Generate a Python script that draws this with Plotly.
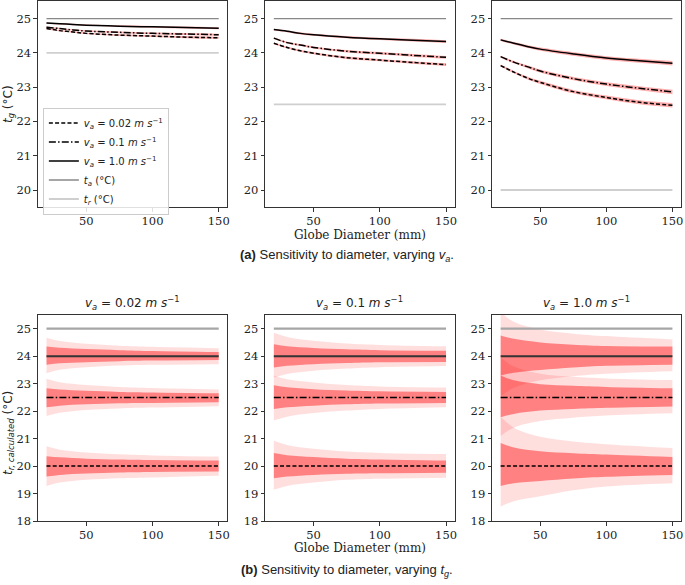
import plotly.graph_objects as go

# ---------------- data ----------------
D_top = [20, 30, 40, 50, 75, 100, 125, 150]
ta_value = 25.0
tr_top = [24.0, 22.5, 20.0]

# panel (a1) tr = 24
tg_a1_va002 = [24.71, 24.65, 24.61, 24.57, 24.52, 24.49, 24.46, 24.44]
tg_a1_va01 = [24.75, 24.71, 24.67, 24.64, 24.60, 24.57, 24.55, 24.53]
tg_a1_va10 = [24.87, 24.85, 24.83, 24.81, 24.78, 24.76, 24.74, 24.72]
# panel (a2) tr = 22.5
tg_a2_va002 = [24.28, 24.16, 24.06, 23.99, 23.86, 23.79, 23.72, 23.66]
tg_a2_va01 = [24.43, 24.30, 24.23, 24.16, 24.05, 23.99, 23.93, 23.87]
tg_a2_va10 = [24.68, 24.63, 24.57, 24.53, 24.46, 24.41, 24.37, 24.33]
# panel (a3) tr = 20
tg_a3_va002 = [23.63, 23.44, 23.27, 23.14, 22.87, 22.70, 22.56, 22.47]
tg_a3_va01 = [23.89, 23.73, 23.60, 23.47, 23.25, 23.09, 22.97, 22.86]
tg_a3_va10 = [24.38, 24.28, 24.19, 24.11, 23.97, 23.85, 23.77, 23.70]
# half width of the uncertainty band around each t_g curve
tg_band_a1 = [0.02, 0.02, 0.02, 0.02, 0.025, 0.025, 0.03, 0.03]
tg_band_a2 = [0.025, 0.025, 0.03, 0.03, 0.035, 0.035, 0.04, 0.04]
tg_band_a3 = [0.03, 0.035, 0.04, 0.045, 0.05, 0.055, 0.06, 0.065]

# panel (b): calculated tr with uncertainty bands (offsets from tr)
D_bot = [20, 30, 50, 75, 100, 150]
tr_bot = [24.0, 22.5, 20.0]
# va = 0.02
b1_24_outer_up = [0.67, 0.55, 0.45, 0.38, 0.34, 0.29]
b1_24_inner_up = [0.35, 0.31, 0.26, 0.22, 0.19, 0.15]
b1_24_inner_dn = [0.31, 0.26, 0.22, 0.18, 0.16, 0.14]
b1_24_outer_dn = [0.62, 0.49, 0.40, 0.34, 0.31, 0.29]
b1_225_outer_up = [0.68, 0.55, 0.45, 0.38, 0.34, 0.29]
b1_225_inner_up = [0.33, 0.29, 0.24, 0.20, 0.18, 0.15]
b1_225_inner_dn = [0.36, 0.30, 0.25, 0.21, 0.20, 0.18]
b1_225_outer_dn = [0.68, 0.56, 0.46, 0.40, 0.37, 0.32]
b1_20_outer_up = [0.72, 0.60, 0.50, 0.43, 0.39, 0.35]
b1_20_inner_up = [0.36, 0.32, 0.27, 0.24, 0.22, 0.20]
b1_20_inner_dn = [0.38, 0.32, 0.27, 0.23, 0.21, 0.20]
b1_20_outer_dn = [0.72, 0.60, 0.50, 0.44, 0.41, 0.35]
# va = 0.1
b2_24_outer_up = [0.85, 0.70, 0.56, 0.46, 0.41, 0.36]
b2_24_inner_up = [0.43, 0.36, 0.30, 0.25, 0.22, 0.20]
b2_24_inner_dn = [0.41, 0.35, 0.29, 0.25, 0.22, 0.21]
b2_24_outer_dn = [0.78, 0.65, 0.53, 0.45, 0.40, 0.36]
b2_225_outer_up = [0.80, 0.66, 0.54, 0.45, 0.40, 0.36]
b2_225_inner_up = [0.44, 0.37, 0.30, 0.25, 0.22, 0.20]
b2_225_inner_dn = [0.42, 0.36, 0.30, 0.25, 0.22, 0.20]
b2_225_outer_dn = [0.84, 0.70, 0.57, 0.48, 0.42, 0.36]
b2_20_outer_up = [0.92, 0.77, 0.63, 0.53, 0.48, 0.44]
b2_20_inner_up = [0.48, 0.40, 0.33, 0.27, 0.24, 0.20]
b2_20_inner_dn = [0.44, 0.38, 0.32, 0.28, 0.26, 0.24]
b2_20_outer_dn = [0.86, 0.72, 0.60, 0.50, 0.46, 0.42]
# va = 1.0
b3_24_outer_up = [1.60, 1.25, 0.97, 0.82, 0.73, 0.61]
b3_24_inner_up = [0.75, 0.63, 0.50, 0.42, 0.37, 0.35]
b3_24_inner_dn = [0.70, 0.60, 0.50, 0.41, 0.35, 0.31]
b3_24_outer_dn = [1.45, 1.15, 0.88, 0.73, 0.64, 0.55]
b3_225_outer_up = [1.45, 1.12, 0.86, 0.75, 0.69, 0.63]
b3_225_inner_up = [0.80, 0.62, 0.48, 0.42, 0.38, 0.33]
b3_225_inner_dn = [0.72, 0.60, 0.48, 0.42, 0.38, 0.33]
b3_225_outer_dn = [1.40, 1.10, 0.86, 0.74, 0.66, 0.58]
b3_20_outer_up = [1.80, 1.40, 1.07, 0.90, 0.80, 0.66]
b3_20_inner_up = [0.84, 0.68, 0.54, 0.47, 0.42, 0.33]
b3_20_inner_dn = [0.72, 0.62, 0.54, 0.45, 0.39, 0.32]
b3_20_outer_dn = [1.47, 1.28, 1.10, 0.88, 0.74, 0.62]

x_ticks = [50, 100, 150]
va_labels = ["0.02", "0.1", "1.0"]

# ---------------- styling ----------------
W, H = 685, 585
DASH = {"0.02": "4px,2.2px", "0.1": "7px,2.2px,1.5px,2.2px", "1.0": "solid"}
PINK = "rgba(255,40,40,0.38)"
LIGHT = "rgba(255,0,0,0.13)"
DARK = "rgba(255,0,0,0.42)"
AX = "#333333"


def pxx(x):
    return x / W


def pxy(y):
    return 1 - y / H


cols = [(38, 228), (266, 456), (493.5, 683)]
rows = [(0.5, 209), (318.3, 527.3)]

fig = go.Figure()
layout = dict(
    width=W, height=H, margin=dict(l=0, r=0, t=0, b=0),
    plot_bgcolor="white", paper_bgcolor="white", showlegend=True,
)

for r, (yt, yb) in enumerate(rows):
    for c, (xl, xr) in enumerate(cols):
        k = r * 3 + c + 1
        common = dict(
            ticks="outside", ticklen=3.5, tickwidth=1, tickcolor=AX,
            showline=True, linecolor=AX, linewidth=1, mirror=True,
            showgrid=False, zeroline=False,
            tickfont=dict(family="DejaVu Serif", size=11.5, color="#222"),
        )
        layout[f"xaxis{k}"] = dict(
            domain=[pxx(xl), pxx(xr)], anchor=f"y{k}", range=[13.5, 156.5],
            tickvals=x_ticks, **common,
        )
        yr = [19.5, 25.5] if r == 0 else [18, 25.5]
        layout[f"yaxis{k}"] = dict(
            domain=[pxy(yb), pxy(yt)], anchor=f"x{k}", range=yr, dtick=1,
            **common,
        )


def axn(k):
    return ("x" if k == 1 else f"x{k}"), ("y" if k == 1 else f"y{k}")


def band(k, x, lo, hi, color):
    xa, ya = axn(k)
    fig.add_trace(go.Scatter(x=x, y=hi, xaxis=xa, yaxis=ya, mode="lines",
                             line=dict(width=0, shape="spline"), showlegend=False,
                             hoverinfo="skip"))
    fig.add_trace(go.Scatter(x=x, y=lo, xaxis=xa, yaxis=ya, mode="lines",
                             line=dict(width=0, shape="spline"), fill="tonexty",
                             fillcolor=color, showlegend=False, hoverinfo="skip"))


def va_name(v):
    return f"<i>v<sub>a</sub></i> = {v} <i>m s</i><sup>−1</sup>"


# ---------------- top row ----------------
top_curves = [
    [tg_a1_va002, tg_a1_va01, tg_a1_va10],
    [tg_a2_va002, tg_a2_va01, tg_a2_va10],
    [tg_a3_va002, tg_a3_va01, tg_a3_va10],
]
top_bands = [tg_band_a1, tg_band_a2, tg_band_a3]

for c in range(3):
    k = c + 1
    xa, ya = axn(k)
    first = c == 0
    fig.add_trace(go.Scatter(x=[D_top[0], D_top[-1]], y=[ta_value, ta_value], xaxis=xa, yaxis=ya,
                             mode="lines", line=dict(color="#888888", width=1.3),
                             name="<i>t<sub>a</sub></i> (°C)", showlegend=first, legendrank=4,
                             hoverinfo="skip"))
    fig.add_trace(go.Scatter(x=[D_top[0], D_top[-1]], y=[tr_top[c], tr_top[c]], xaxis=xa, yaxis=ya,
                             mode="lines", line=dict(color="#cfcfcf", width=1.8),
                             name="<i>t<sub>r</sub></i> (°C)", showlegend=first, legendrank=5,
                             hoverinfo="skip"))
    for i, curve in enumerate(top_curves[c]):
        hw = top_bands[c]
        band(k, D_top, [v - h for v, h in zip(curve, hw)], [v + h for v, h in zip(curve, hw)], PINK)
    for i, curve in enumerate(top_curves[c]):
        v = va_labels[i]
        fig.add_trace(go.Scatter(x=D_top, y=curve, xaxis=xa, yaxis=ya, mode="lines",
                                 line=dict(color="black", width=1.5, dash=DASH[v], shape="spline"),
                                 name=va_name(v), showlegend=first, legendrank=i + 1,
                                 hoverinfo="skip"))

# ---------------- bottom row ----------------
bot = {
    1: [(b1_24_outer_up, b1_24_inner_up, b1_24_inner_dn, b1_24_outer_dn),
        (b1_225_outer_up, b1_225_inner_up, b1_225_inner_dn, b1_225_outer_dn),
        (b1_20_outer_up, b1_20_inner_up, b1_20_inner_dn, b1_20_outer_dn)],
    2: [(b2_24_outer_up, b2_24_inner_up, b2_24_inner_dn, b2_24_outer_dn),
        (b2_225_outer_up, b2_225_inner_up, b2_225_inner_dn, b2_225_outer_dn),
        (b2_20_outer_up, b2_20_inner_up, b2_20_inner_dn, b2_20_outer_dn)],
    3: [(b3_24_outer_up, b3_24_inner_up, b3_24_inner_dn, b3_24_outer_dn),
        (b3_225_outer_up, b3_225_inner_up, b3_225_inner_dn, b3_225_outer_dn),
        (b3_20_outer_up, b3_20_inner_up, b3_20_inner_dn, b3_20_outer_dn)],
}
line_dash_for_tr = {24.0: "solid", 22.5: DASH["0.1"], 20.0: DASH["0.02"]}

for c in range(3):
    k = c + 4
    xa, ya = axn(k)
    sets = bot[c + 1]
    for j, t in enumerate(tr_bot):
        ou, iu, idn, od = sets[j]
        band(k, D_bot, [t - v for v in od], [t + v for v in ou], LIGHT)
    for j, t in enumerate(tr_bot):
        ou, iu, idn, od = sets[j]
        band(k, D_bot, [t - v for v in idn], [t + v for v in iu], DARK)
    fig.add_trace(go.Scatter(x=[D_bot[0], D_bot[-1]], y=[ta_value, ta_value], xaxis=xa, yaxis=ya,
                             mode="lines", line=dict(color="#a6a6a6", width=2.2),
                             showlegend=False, hoverinfo="skip"))
    for t in tr_bot:
        fig.add_trace(go.Scatter(x=[D_bot[0], D_bot[-1]], y=[t, t], xaxis=xa, yaxis=ya,
                                 mode="lines",
                                 line=dict(color="#333333" if t == 24.0 else "black",
                                           width=2 if t == 24.0 else 1.5,
                                           dash=line_dash_for_tr[t]),
                                 showlegend=False, hoverinfo="skip"))

layout["legend"] = dict(
    x=pxx(43), y=pxy(108), xanchor="left", yanchor="top",
    bordercolor="#cccccc", borderwidth=1, bgcolor="rgba(255,255,255,0.85)",
    font=dict(family="DejaVu Sans", size=10, color="#222"),
    itemwidth=30, tracegroupgap=0, traceorder="normal",
)

ann = []
serif = dict(family="DejaVu Serif", size=12, color="#222")
sans = dict(family="DejaVu Sans", size=12, color="#222")
cap = dict(family="Liberation Sans", size=13, color="#222")
ann.append(dict(x=pxx(361), y=pxy(237), text="Globe Diameter (mm)", font=serif))
ann.append(dict(x=pxx(361), y=pxy(555), text="Globe Diameter (mm)", font=serif))
ann.append(dict(x=pxx(348), y=pxy(258),
                text="<b>(a)</b> Sensitivity to diameter, varying <i>v<sub>a</sub></i>.", font=cap))
ann.append(dict(x=pxx(348), y=pxy(577),
                text="<b>(b)</b> Sensitivity to diameter, varying <i>t<sub>g</sub></i>.", font=cap))
for c, (xl, xr) in enumerate(cols):
    ann.append(dict(x=pxx((xl + xr) / 2), y=pxy(306.5), text=va_name(va_labels[c]), font=sans))
ann.append(dict(x=pxx(9), y=pxy(104.5), text="<i>t<sub>g</sub></i> (°C)", textangle=-90, font=sans))
ann.append(dict(x=pxx(9), y=pxy(438),
                text="<i>t</i><sub><i><span style='font-size:8.5px'>r, calculated</span></i></sub> (°C)",
                textangle=-90, font=sans))
for a in ann:
    a.update(xref="paper", yref="paper", showarrow=False, xanchor="center", yanchor="middle")
layout["annotations"] = ann

fig.update_layout(**layout)
fig.write_html(
    "out.html",
    config={"displayModeBar": False},
    post_script="document.body.style.margin='0px';document.body.style.padding='0px';"
                "document.body.style.overflow='hidden';",
)
